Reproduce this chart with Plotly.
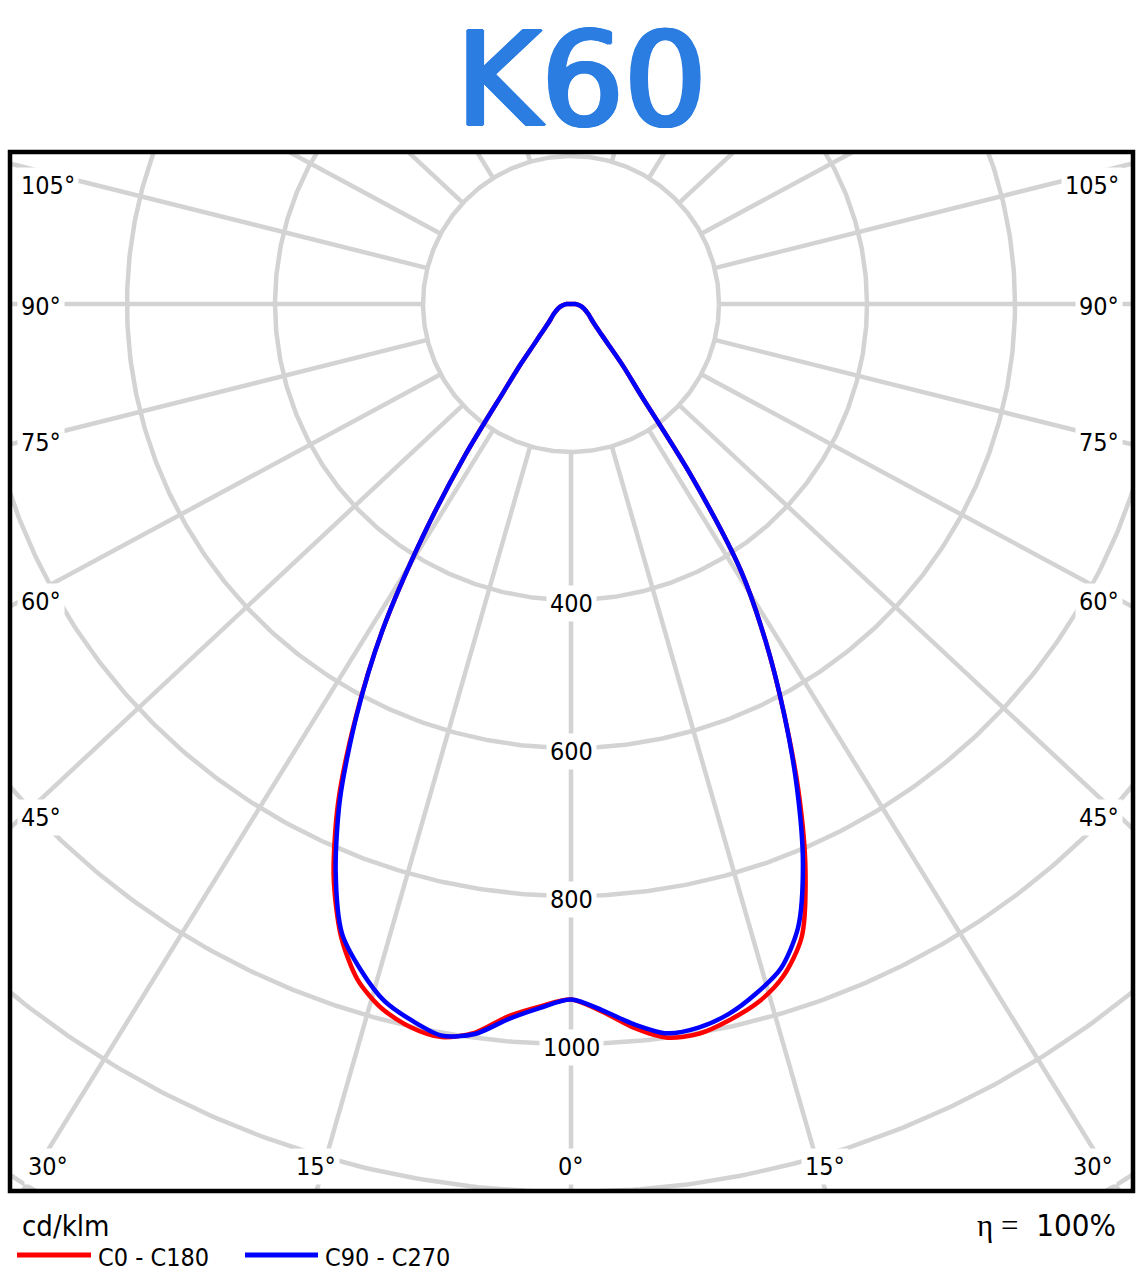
import numpy as np
import plotly.graph_objects as go

# ---------------- data (cd/klm) ----------------
GAMMA = [0, 2.5, 5, 7.5, 10, 12.5, 15, 17.5, 20, 22.5, 25, 27.5, 30, 32.5, 35, 37.5,
         40, 42.5, 45, 50, 55, 60, 70, 80, 90, 180]
C0   = [940, 957, 982, 1000, 1001, 991, 977, 953, 911, 828, 728, 623, 526, 427, 282, 155,
        110, 76, 58, 40, 32, 27, 19, 12, 6, 0]
C180 = [940, 950, 966, 993, 1006, 1001, 986, 958, 909, 838, 745, 630, 510, 373, 249, 150,
        105, 74, 58, 40, 32, 27, 19, 12, 6, 0]
C90  = [940, 955, 977, 994, 993, 983, 965, 942, 897, 819, 723, 623, 526, 427, 282, 155,
        110, 76, 58, 40, 32, 27, 19, 12, 6, 0]
C270 = [940, 952, 970, 995, 1004, 992, 975, 944, 905, 831, 739, 628, 510, 373, 249, 150,
        105, 74, 58, 40, 32, 27, 19, 12, 6, 0]

RINGS = [200, 400, 600, 800, 1000, 1200, 1400, 1600]
RING_LABELS = [400, 600, 800, 1000]
SPOKES = list(range(0, 360, 15))
SPOKE_START = 200
TITLE = "K60"
UNIT = "cd/klm"
SERIES_NAMES = ["C0 - C180", "C90 - C270"]
EFFICIENCY = "100%"

# ---------------- layout constants ----------------
W, H = 1143, 1287
CX, CY = 571, 304          # pole position in pixels
SCALE = 0.74               # px per cd/klm
PL, PR, PT, PB = 10, 1133, 152, 1191   # plot area in pixels
GRID = "#d3d3d3"
SPOKE_ASPECT = 0.934       # the source draws its spokes with a slightly flattened vertical component
FONT = "DejaVu Sans Condensed, DejaVu Sans, sans-serif"
TITLE_COLOR = "#2b7de1"


def px2x(px):
    return (px - CX) / SCALE


def px2y(py):
    return (CY - py) / SCALE


def polar_xy(g_deg, r, side):
    g = np.radians(np.asarray(g_deg, dtype=float))
    r = np.asarray(r, dtype=float)
    return side * r * np.sin(g), -r * np.cos(g)


fig = go.Figure()

# grid rings
t = np.linspace(0, 2 * np.pi, 721)
gx, gy = [], []
for r in RINGS:
    gx += list(r * np.cos(t)) + [None]
    gy += list(r * np.sin(t)) + [None]
fig.add_trace(go.Scatter(x=gx, y=gy, mode="lines", line=dict(color=GRID, width=4.5),
                         hoverinfo="skip", showlegend=False))

# spokes
sx, sy = [], []
for a in SPOKES:
    ar = np.radians(a)
    dx, dy = np.sin(ar), -np.cos(ar) * SPOKE_ASPECT
    n = np.hypot(dx, dy)
    dx, dy = dx / n, dy / n
    for r in (SPOKE_START, 3000):
        sx.append(r * dx)
        sy.append(r * dy)
    sx.append(None)
    sy.append(None)
fig.add_trace(go.Scatter(x=sx, y=sy, mode="lines", line=dict(color=GRID, width=4.5),
                         hoverinfo="skip", showlegend=False))


def plane_curve(left_vals, right_vals):
    lx, ly = polar_xy(GAMMA[::-1], left_vals[::-1], -1)
    rx, ry = polar_xy(GAMMA[1:], right_vals[1:], 1)
    return np.concatenate([lx, rx]), np.concatenate([ly, ry])


x1, y1 = plane_curve(C180, C0)
x2, y2 = plane_curve(C270, C90)
fig.add_trace(go.Scatter(x=x1, y=y1, mode="lines", name=SERIES_NAMES[0],
                         line=dict(color="#ff0000", width=4.5, shape="spline", smoothing=0.8),
                         showlegend=False))
fig.add_trace(go.Scatter(x=x2, y=y2, mode="lines", name=SERIES_NAMES[1],
                         line=dict(color="#0000ff", width=4.5, shape="spline", smoothing=0.8),
                         showlegend=False))

ann = []
# ring labels
for v in RING_LABELS:
    ann.append(dict(x=0, y=-v, xref="x", yref="y", text=str(v), showarrow=False,
                    font=dict(family=FONT, size=25, color="black"), bgcolor="white",
                    borderpad=3, xanchor="center", yanchor="middle", yshift=-3))

# angle labels (text, px center x, px center y)
ANGLE_LABEL_POS = [
    ("105°", 47.7, 183), ("90°", 41, 304), ("75°", 41, 440), ("60°", 41, 599), ("45°", 41, 815),
    ("30°", 47.5, 1164), ("15°", 316, 1164), ("0°", 571, 1164), ("15°", 825, 1164),
    ("30°", 1093, 1164), ("45°", 1099, 815), ("60°", 1099, 599), ("75°", 1099, 440),
    ("90°", 1099, 304), ("105°", 1091.7, 183),
]
for txt, px, py in ANGLE_LABEL_POS:
    ann.append(dict(x=px2x(px), y=px2y(py), xref="x", yref="y", text=txt, showarrow=False,
                    font=dict(family=FONT, size=25, color="black"), bgcolor="white",
                    borderpad=3, xanchor="center", yanchor="middle", yshift=-2))


def paper_x(px):
    return (px - PL) / (PR - PL)


def paper_y(py):
    return (PB - py) / (PB - PT)


# title (regular weight, thickened slightly with a same-colour text shadow)
shadow = ", ".join(f"{dx}px {dy}px 0 {TITLE_COLOR}"
                   for dx, dy in [(2.5, 0), (-2.5, 0), (1.5, 1), (-1.5, 1), (1.5, -1),
                                  (-1.5, -1), (0, 1), (0, -1)])
ann.append(dict(x=paper_x(581), y=paper_y(80), xref="paper", yref="paper", text=TITLE,
                showarrow=False,
                font=dict(family="DejaVu Sans", size=130, color=TITLE_COLOR, shadow=shadow),
                xanchor="center", yanchor="middle"))
# unit
ann.append(dict(x=paper_x(20), y=paper_y(1226), xref="paper", yref="paper", text=UNIT,
                showarrow=False, font=dict(family=FONT, size=29, color="black"),
                xanchor="left", yanchor="middle"))
# legend texts
ann.append(dict(x=paper_x(96), y=paper_y(1257), xref="paper", yref="paper", text=SERIES_NAMES[0],
                showarrow=False, font=dict(family=FONT, size=25, color="black"),
                xanchor="left", yanchor="middle"))
ann.append(dict(x=paper_x(323), y=paper_y(1257), xref="paper", yref="paper", text=SERIES_NAMES[1],
                showarrow=False, font=dict(family=FONT, size=25, color="black"),
                xanchor="left", yanchor="middle"))
# efficiency
ann.append(dict(x=paper_x(1118), y=paper_y(1225), xref="paper", yref="paper",
                text='<span style="font-family:Liberation Serif;font-size:31px">η =</span>  ' + EFFICIENCY,
                showarrow=False, font=dict(family=FONT, size=31, color="black"),
                xanchor="right", yanchor="middle"))

shapes = [
    dict(type="rect", xref="paper", yref="paper", x0=0, x1=1, y0=0, y1=1,
         line=dict(color="black", width=4.5), layer="above"),
    dict(type="line", xref="paper", yref="paper", x0=paper_x(17), x1=paper_x(91),
         y0=paper_y(1255), y1=paper_y(1255), line=dict(color="#ff0000", width=5)),
    dict(type="line", xref="paper", yref="paper", x0=paper_x(245), x1=paper_x(318),
         y0=paper_y(1255), y1=paper_y(1255), line=dict(color="#0000ff", width=5)),
]

fig.update_layout(
    width=W, height=H,
    margin=dict(l=PL, r=W - PR, t=PT, b=H - PB, pad=0),
    paper_bgcolor="white", plot_bgcolor="white",
    xaxis=dict(range=[px2x(PL), px2x(PR)], visible=False, fixedrange=True),
    yaxis=dict(range=[px2y(PB), px2y(PT)], visible=False, fixedrange=True),
    annotations=ann, shapes=shapes, showlegend=False,
)

fig.write_html("out.html")
